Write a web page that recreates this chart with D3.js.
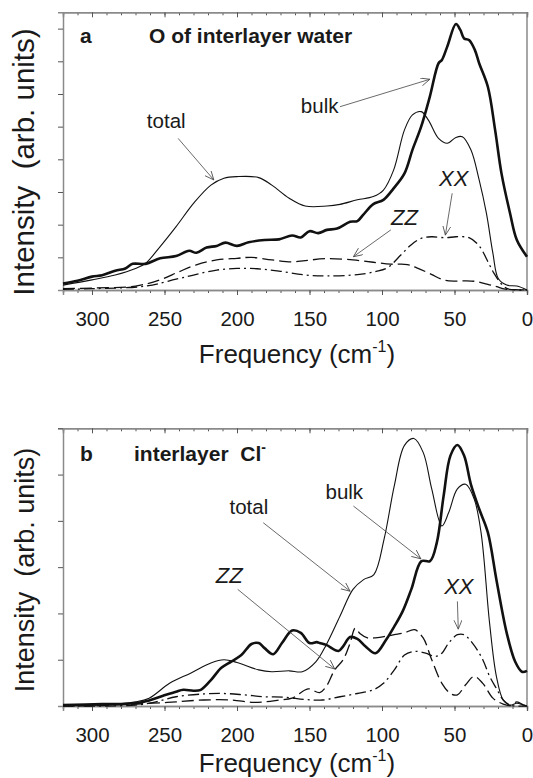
<!DOCTYPE html>
<html>
<head>
<meta charset="utf-8">
<script src="https://cdn.jsdelivr.net/npm/d3@7"></script>
<style>
body { margin: 0; background: #fff; }
svg text { font-family: "Liberation Sans", Arial, sans-serif; fill: #1a1a1a; }
</style>
</head>
<body>
<svg id="fig" width="533" height="778"></svg>
<script>
// tick values (cm-1)
const majorTicks = [300, 250, 200, 150, 100, 50, 0];
const minorTicks = d3.range(0, 321, 10);

// panel a : O of interlayer water  [frequency, intensity]
const aBulk = [[320,0.2],[310,0.28],[300,0.41],[293,0.45],[284,0.59],[277,0.66],[272,0.8],[263,0.8],[253,0.97],[242,1.04],[233,1.2],[228,1.14],[221,1.3],[214,1.35],[208,1.45],[200,1.35],[192,1.46],[181,1.53],[171,1.55],[162,1.67],[156,1.61],[150,1.8],[144,1.74],[138,1.84],[131,1.88],[122,2.09],[117,2.11],[113,2.3],[106,2.63],[99,2.76],[92,3.11],[84.5,3.57],[79,4.29],[73,5.0],[67,5.92],[61,6.94],[58.7,7.04],[55,7.45],[49,8.14],[46,7.96],[43.4,7.7],[40,7.65],[36,7.35],[33,6.94],[27,6.22],[22,4.9],[17.6,3.57],[11.7,2.35],[7,1.53],[0,1.02]];
const aTotal = [[320,0.15],[300,0.31],[284,0.46],[270,0.66],[263,0.82],[253,1.33],[242,1.94],[230,2.65],[218,3.21],[209,3.42],[200,3.47],[185,3.44],[176,3.21],[164,2.81],[153,2.57],[138,2.57],[129,2.62],[117,2.76],[106,2.86],[99,3.06],[92,3.67],[84.5,4.9],[79,5.36],[73,5.46],[68,5.2],[61,4.64],[55,4.49],[49,4.67],[44.6,4.69],[38.7,4.29],[33,3.37],[28,2.35],[23.5,1.12],[19.8,0.35],[14,0.15],[7,0.12],[0,0]];
const aZZ = [[320,0.04],[300,0.06],[270,0.12],[253,0.31],[240,0.56],[228,0.77],[214,0.92],[200,0.97],[190,1.0],[176,0.92],[162,0.86],[153,0.9],[138,0.96],[120,0.92],[106,0.85],[94,0.79],[82.5,0.78],[76,0.68],[66,0.48],[57.7,0.31],[50,0.27],[42,0.28],[35,0.26],[26,0.16],[20.9,0.1],[15,0.03],[8,0.01],[0,0]];
const aXX = [[320,0.02],[300,0.04],[263,0.12],[242,0.33],[228,0.48],[214,0.61],[200,0.66],[186,0.65],[171,0.58],[153,0.46],[138,0.43],[117,0.47],[104,0.57],[96,0.69],[87,1.07],[80,1.38],[73,1.58],[66,1.63],[56,1.6],[49,1.63],[40,1.6],[33,1.35],[26,0.78],[22.6,0.5],[18,0.2],[14,0.05],[10,0.01],[0,0]];

// panel b : interlayer Cl-
const bBulk = [[320,0.02],[293,0.04],[270,0.06],[260.6,0.12],[251,0.22],[242,0.31],[237,0.35],[230,0.33],[225,0.35],[218,0.56],[211,0.82],[204,0.96],[197,1.1],[190,1.34],[185,1.36],[181,1.25],[175,1.12],[169,1.36],[162,1.63],[156,1.58],[150,1.36],[145,1.38],[143,1.36],[138.5,1.32],[130,1.19],[126.8,1.29],[122,1.49],[117,1.45],[111.5,1.29],[104.5,1.14],[97.4,1.42],[91.5,1.72],[85.7,2.05],[79.8,2.52],[72.8,3.13],[66.9,3.13],[62.2,3.53],[57.5,4.54],[52.8,5.41],[48,5.64],[43.4,5.41],[38.7,4.79],[32.9,4.25],[27,3.75],[21.1,2.73],[14,1.58],[8.2,0.96],[3.5,0.74],[0,0.76]];
const bTotal = [[320,0.01],[293,0.02],[270,0.09],[260.6,0.17],[246.5,0.49],[232,0.71],[218,0.93],[209,1.0],[200,0.94],[185,0.78],[176,0.74],[164,0.76],[155,0.74],[145.5,0.96],[138.5,1.32],[129,1.94],[120,2.52],[112.7,2.73],[105.6,2.84],[98.6,3.6],[91.5,4.76],[84.5,5.63],[78,5.78],[71.6,5.48],[65.7,4.69],[58.7,3.89],[54,4.18],[48,4.69],[42.3,4.79],[36.4,4.47],[31.7,3.75],[25.8,1.79],[21.1,0.64],[16.4,0.13],[11.7,0.02],[7,0.06],[2.3,0.02],[0,0]];
const bZZ = [[320,0],[293,0.01],[258,0.06],[242,0.09],[223,0.13],[204,0.13],[190,0.08],[181,0.09],[171,0.13],[162,0.17],[151,0.37],[143,0.29],[138.5,0.42],[132.6,0.78],[126.8,1.0],[122,1.36],[118.5,1.68],[115,1.56],[110,1.47],[105.6,1.47],[98.6,1.5],[91.5,1.54],[84.5,1.58],[77.5,1.65],[71.6,1.47],[65.7,1.0],[58.7,0.49],[52.8,0.27],[48,0.24],[42.3,0.46],[36.4,0.64],[30.5,0.49],[23.5,0.17],[16.4,0.04],[11.7,0.01],[7,0.09],[2.3,0.02],[0,0]];
const bXX = [[320,0],[270,0.02],[256,0.09],[242,0.2],[223,0.26],[209,0.27],[195,0.24],[181,0.2],[167,0.19],[153,0.14],[141,0.13],[129,0.2],[117,0.27],[106,0.35],[99,0.49],[91.5,0.78],[84.5,1.1],[77.5,1.18],[70,1.14],[63,1.07],[58.7,1.14],[54,1.36],[48,1.54],[43.4,1.54],[37.6,1.36],[30.5,1.0],[25.8,0.64],[21.1,0.38],[16.4,0.13],[11.7,0.02],[0,0]];

// annotation text + arrows, in data units
const aNotes = [
  {text: 'total', it: false, at: [248.8, 4.95], from: [240.6, 4.64], to: [216, 3.37]},
  {text: 'bulk', it: false, at: [143, 5.41], from: [129, 5.61], to: [67, 6.45]},
  {text: 'ZZ', it: true, at: [84.5, 1.99], from: [93.9, 1.84], to: [119.7, 1.02]},
  {text: 'XX', it: true, at: [50.5, 3.18], from: [51.6, 2.96], to: [56.3, 1.68]}
];
const bNotes = [
  {text: 'total', it: false, at: [191.8, 4.14], from: [181.9, 3.96], to: [122, 2.48]},
  {text: 'bulk', it: false, at: [126, 4.48], from: [119.7, 4.32], to: [73.2, 3.18]},
  {text: 'ZZ', it: true, at: [205.4, 2.66], from: [199.5, 2.52], to: [132.6, 0.80]},
  {text: 'XX', it: true, at: [47, 2.41], from: [48, 2.26], to: [47.4, 1.66]}
];

const svg = d3.select('#fig');

svg.append('defs').append('marker')
    .attr('id', 'arr')
    .attr('markerUnits', 'userSpaceOnUse')
    .attr('markerWidth', 12).attr('markerHeight', 10)
    .attr('refX', 9).attr('refY', 4)
    .attr('orient', 'auto')
    .append('path')
    .attr('d', 'M0,0 L9,4 L0,8')
    .attr('fill', 'none')
    .attr('stroke', '#444')
    .attr('stroke-width', 0.8);

function drawPanel(p) {
    const x = d3.scaleLinear().domain([320, 0]).range([63, 527]);
    const y = d3.scaleLinear().domain([0, p.ymax]).range([p.bottom, p.top]);
    const g = svg.append('g');

    const line = d3.line()
        .x(d => x(d[0]))
        .y(d => y(d[1]))
        .curve(d3.curveCatmullRom.alpha(0.5));

    // frame: top (inward ticks), right, left, bottom
    g.append('g')
        .attr('transform', `translate(0,${p.top})`)
        .call(d3.axisTop(x).tickValues(minorTicks).tickSize(-3).tickFormat(''));
    g.append('g')
        .attr('transform', `translate(0,${p.top})`)
        .call(d3.axisTop(x).tickValues(majorTicks).tickSize(-5).tickFormat(''));
    g.append('line')
        .attr('x1', 527).attr('x2', 527)
        .attr('y1', p.top).attr('y2', p.bottom);
    g.append('g')
        .attr('transform', 'translate(63,0)')
        .call(d3.axisLeft(y).tickValues(d3.range(1, Math.floor(p.ymax) + 1)).tickSize(5).tickFormat(''));
    g.append('g')
        .attr('transform', `translate(0,${p.bottom})`)
        .call(d3.axisBottom(x).tickValues(minorTicks).tickSize(3).tickFormat(''));
    const xb = g.append('g')
        .attr('class', 'xlab')
        .attr('transform', `translate(0,${p.bottom})`)
        .call(d3.axisBottom(x).tickValues(majorTicks).tickSize(5).tickPadding(16));
    xb.selectAll('text')
        .attr('font-size', 20.5)
        .attr('font-family', '"Liberation Sans", Arial, sans-serif')
        .attr('fill', '#1a1a1a');

    g.selectAll('.domain, line').attr('stroke', '#8a8a8a').attr('stroke-width', 1.5);
    g.selectAll('.tick line').attr('stroke', '#555').attr('stroke-width', 1);

    // curves
    const series = [
        {d: p.xx, w: 1.3, dash: '11,4,2,4'},
        {d: p.zz, w: 1.3, dash: '12,5'},
        {d: p.total, w: 1.1, dash: null},
        {d: p.bulk, w: 2.6, dash: null}
    ];
    series.forEach(s => {
        g.append('path')
            .datum(s.d)
            .attr('d', line)
            .attr('fill', 'none')
            .attr('stroke', '#111')
            .attr('stroke-width', s.w)
            .attr('stroke-linejoin', 'round')
            .attr('stroke-dasharray', s.dash);
    });

    // annotations
    p.notes.forEach(n => {
        g.append('line')
            .attr('x1', x(n.from[0])).attr('y1', y(n.from[1]))
            .attr('x2', x(n.to[0])).attr('y2', y(n.to[1]))
            .attr('stroke', '#444').attr('stroke-width', 0.8)
            .attr('marker-end', 'url(#arr)');
        g.append('text')
            .attr('x', x(n.at[0])).attr('y', y(n.at[1]))
            .attr('text-anchor', 'middle')
            .attr('font-size', n.it ? 22 : 20.5)
            .attr('font-style', n.it ? 'italic' : 'normal')
            .text(n.text);
    });

    // panel label
    g.append('text')
        .attr('x', 80).attr('y', p.top + p.titleDy)
        .attr('font-size', 21).attr('font-weight', 'bold')
        .text(p.letter);
    const t = g.append('text')
        .attr('x', p.titleX).attr('y', p.top + p.titleDy)
        .attr('font-size', 21).attr('font-weight', 'bold')
        .attr('xml:space', 'preserve')
        .text(p.title);
    if (p.sup) {
        t.append('tspan').attr('font-size', 14).attr('dy', -9).text(p.sup);
    }

    // axis titles
    const ft = g.append('text')
        .attr('x', 297).attr('y', p.bottom + p.xtDy)
        .attr('text-anchor', 'middle')
        .attr('font-size', 26)
        .text('Frequency (cm');
    ft.append('tspan').attr('font-size', 16).attr('dy', -11).text('-1');
    ft.append('tspan').attr('dy', 11).text(')');

    g.append('text')
        .attr('transform', `translate(34,${p.ylabY}) rotate(-90)`)
        .attr('text-anchor', 'middle')
        .attr('font-size', p.ylabSize)
        .attr('xml:space', 'preserve')
        .text('Intensity  (arb. units)');
}

drawPanel({top: 12.3, bottom: 290, ymax: 8.5, bulk: aBulk, total: aTotal, zz: aZZ, xx: aXX,
    notes: aNotes, letter: 'a', title: 'O of interlayer water', titleX: 149, titleDy: 31,
    xtDy: 73, ylabY: 162, ylabSize: 29.5});
drawPanel({top: 428.3, bottom: 706, ymax: 6, bulk: bBulk, total: bTotal, zz: bZZ, xx: bXX,
    notes: bNotes, letter: 'b', title: 'interlayer  Cl', sup: '-', titleX: 134, titleDy: 33,
    xtDy: 66, ylabY: 570, ylabSize: 27});
</script>
</body>
</html>
